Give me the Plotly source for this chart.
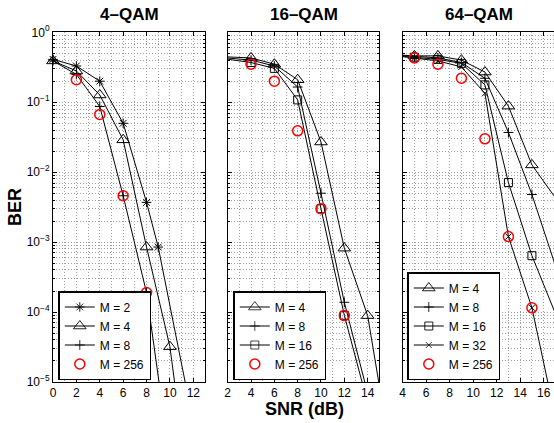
import plotly.graph_objects as go

# ---------------- data ----------------
# 4-QAM panel
snr4_m2 = [0, 2, 4, 6, 8, 9, 12]
ber4_m2 = [0.41, 0.33, 0.20, 0.050, 0.0037, 8.5e-4, 2.6e-6]
snr4_m4 = [0, 2, 4, 6, 8, 10, 12]
ber4_m4 = [0.39, 0.28, 0.127, 0.029, 8.5e-4, 3.2e-5, 9e-8]
snr4_m8 = [0, 2, 4, 6, 8, 10]
ber4_m8 = [0.39, 0.25, 0.087, 0.0046, 1.9e-4, 7.6e-7]
snr4_m256 = [2, 4, 6, 8]
ber4_m256 = [0.21, 0.067, 0.0046, 1.9e-4]

# 16-QAM panel
snr16 = [0, 4, 6, 8, 10, 12, 14, 16]
ber16_m4 = [0.46, 0.43, 0.35, 0.21, 0.027, 8.2e-4, 8.9e-5, 9e-7]
snr16_b = [0, 4, 6, 8, 10, 12, 14]
ber16_m8 = [0.46, 0.40, 0.33, 0.165, 0.005, 1.38e-4, 6.9e-6]
ber16_m16 = [0.46, 0.37, 0.305, 0.108, 0.003, 9.0e-5, 5.0e-6]
snr16_m256 = [4, 6, 8, 10, 12]
ber16_m256 = [0.35, 0.20, 0.039, 0.003, 8.9e-5]

# 64-QAM panel
snr64 = [3, 5, 7, 9, 11, 13, 15, 17]
ber64_m4 = [0.48, 0.46, 0.46, 0.40, 0.27, 0.088, 0.0127, 0.0043]
ber64_m8 = [0.48, 0.45, 0.43, 0.37, 0.22, 0.037, 0.0048, 4.6e-4]
ber64_m16 = [0.47, 0.44, 0.41, 0.36, 0.177, 0.0071, 6.4e-4, 9.5e-5]
ber64_m32 = [0.47, 0.43, 0.39, 0.32, 0.134, 1.2e-3, 1.15e-4, 3.1e-6]
snr64_m256 = [5, 7, 9, 11, 13, 15]
ber64_m256 = [0.43, 0.35, 0.22, 0.03, 1.2e-3, 1.15e-4]

panel_titles = ["4–QAM", "16–QAM", "64–QAM"]
x_ranges = [[0, 13], [2, 15], [4, 16.88]]
y_tickvals = [1e-5, 1e-4, 1e-3, 1e-2, 1e-1, 1]
y_ticktext = ["10<sup>−5</sup>", "10<sup>−4</sup>", "10<sup>−3</sup>",
              "10<sup>−2</sup>", "10<sup>−1</sup>", "10<sup>0</sup>"]

# ---------------- styles ----------------
FONT = "Liberation Sans, Arial, Helvetica, sans-serif"
GRID = "#a0a0a0"
GDASH = "1px,2px"
styles = {
    "M = 2": dict(symbol="asterisk-open", size=8, color="black", mode="lines+markers", lw=1),
    "M = 4": dict(symbol="triangle-up-open", size=11, color="black", mode="lines+markers", lw=1),
    "M = 8": dict(symbol="cross-thin-open", size=7, color="black", mode="lines+markers", lw=1),
    "M = 16": dict(symbol="square-open", size=8, color="black", mode="lines+markers", lw=1),
    "M = 32": dict(symbol="x-thin-open", size=6, color="black", mode="lines+markers", lw=1),
    "M = 256": dict(symbol="circle-open", size=10, color="#ff0000", mode="markers", lw=1.5),
}

panels = [
    [("M = 2", snr4_m2, ber4_m2), ("M = 4", snr4_m4, ber4_m4),
     ("M = 8", snr4_m8, ber4_m8), ("M = 256", snr4_m256, ber4_m256)],
    [("M = 4", snr16, ber16_m4), ("M = 8", snr16_b, ber16_m8),
     ("M = 16", snr16_b, ber16_m16), ("M = 256", snr16_m256, ber16_m256)],
    [("M = 4", snr64, ber64_m4), ("M = 8", snr64, ber64_m8),
     ("M = 16", snr64, ber64_m16), ("M = 32", snr64, ber64_m32),
     ("M = 256", snr64_m256, ber64_m256)],
]

W, H = 554, 423
x_domains = [[53 / W, 205 / W], [227.7 / W, 379.3 / W], [402.7 / W, 1.0]]
y_domain = [1 - 382 / H, 1 - 32.3 / H]

fig = go.Figure()
for i, series in enumerate(panels):
    ax = "" if i == 0 else str(i + 1)
    leg = "legend" if i == 0 else "legend" + str(i + 1)
    xmin = x_ranges[i][0]
    for name, xs, ys in series:
        st = styles[name]
        op = [1 if (y >= 1e-5 and x >= xmin) else 0 for x, y in zip(xs, ys)]
        fig.add_trace(go.Scatter(
            x=xs, y=ys, name=name, mode=st["mode"],
            xaxis="x" + ax, yaxis="y" + ax, legend=leg,
            line=dict(color="black", width=1),
            marker=dict(symbol=st["symbol"], size=st["size"], opacity=op,
                        color=st["color"],
                        line=dict(color=st["color"], width=st["lw"])),
            cliponaxis=False, showlegend=True,
        ))

minor_y = [m * 10 ** e for e in range(-5, 0) for m in range(2, 10)]
layout = dict(
    width=W, height=H, autosize=False,
    margin=dict(l=0, r=0, t=0, b=0),
    paper_bgcolor="white", plot_bgcolor="white",
    font=dict(family=FONT, color="black"),
)
for i in range(3):
    ax = "" if i == 0 else str(i + 1)
    layout["xaxis" + ax] = dict(
        domain=x_domains[i], range=x_ranges[i], anchor="y" + ax,
        tick0=0, dtick=2, ticks="inside", ticklen=4, tickcolor="black",
        showline=True, linecolor="black", linewidth=1, mirror="allticks",
        showgrid=True, gridcolor=GRID, griddash=GDASH, gridwidth=1,
        minor=dict(dtick=1, showgrid=True, gridcolor=GRID, griddash=GDASH,
                   gridwidth=1, ticks=""),
        zeroline=False, automargin=False,
        tickfont=dict(family=FONT, size=12, color="black"),
    )
    layout["yaxis" + ax] = dict(
        domain=y_domain, type="log", range=[-5, 0], anchor="x" + ax,
        tickmode="array", tickvals=y_tickvals, ticktext=y_ticktext,
        showticklabels=(i == 0),
        ticks="inside", ticklen=4, tickcolor="black",
        showline=True, linecolor="black", linewidth=1,
        mirror=("allticks" if i < 2 else False),
        showgrid=True, gridcolor=GRID, griddash=GDASH, gridwidth=1,
        minor=dict(tickmode="array", tickvals=minor_y, showgrid=True,
                   gridcolor=GRID, griddash=GDASH, gridwidth=1,
                   ticks="inside", ticklen=2, tickcolor="black"),
        zeroline=False, automargin=False,
        tickfont=dict(family=FONT, size=12, color="black"),
    )

legend_pos = [(58.3, 380), (233.3, 380), (407.3, 380)]
for i, (lx, ly) in enumerate(legend_pos):
    key = "legend" if i == 0 else "legend" + str(i + 1)
    layout[key] = dict(
        x=lx / W, y=1 - ly / H, xanchor="left", yanchor="bottom",
        bgcolor="white", bordercolor="black", borderwidth=1.5,
        font=dict(family=FONT, size=12, color="black"),
        traceorder="normal", itemwidth=30,
    )

annotations = []
title_x = [(x_domains[i][0] + x_domains[i][1]) / 2 for i in range(3)]
title_x[2] = 479.3 / W
for i, t in enumerate(panel_titles):
    annotations.append(dict(
        text="<b>" + t + "</b>", x=title_x[i], y=1 - 14 / H, xref="paper", yref="paper",
        xanchor="center", yanchor="middle", showarrow=False,
        font=dict(family=FONT, size=17, color="black")))
annotations.append(dict(
    text="<b>BER</b>", x=15 / W, y=1 - 207 / H, xref="paper", yref="paper",
    xanchor="center", yanchor="middle", showarrow=False, textangle=-90,
    font=dict(family=FONT, size=18, color="black")))
annotations.append(dict(
    text="<b>SNR (dB)</b>", x=304 / W, y=1 - 409 / H, xref="paper", yref="paper",
    xanchor="center", yanchor="middle", showarrow=False,
    font=dict(family=FONT, size=18, color="black")))
layout["annotations"] = annotations

fig.update_layout(**layout)
fig.write_html("out.html", config={"displayModeBar": False},
               post_script="document.body.style.margin='0';document.body.style.overflow='hidden';")
